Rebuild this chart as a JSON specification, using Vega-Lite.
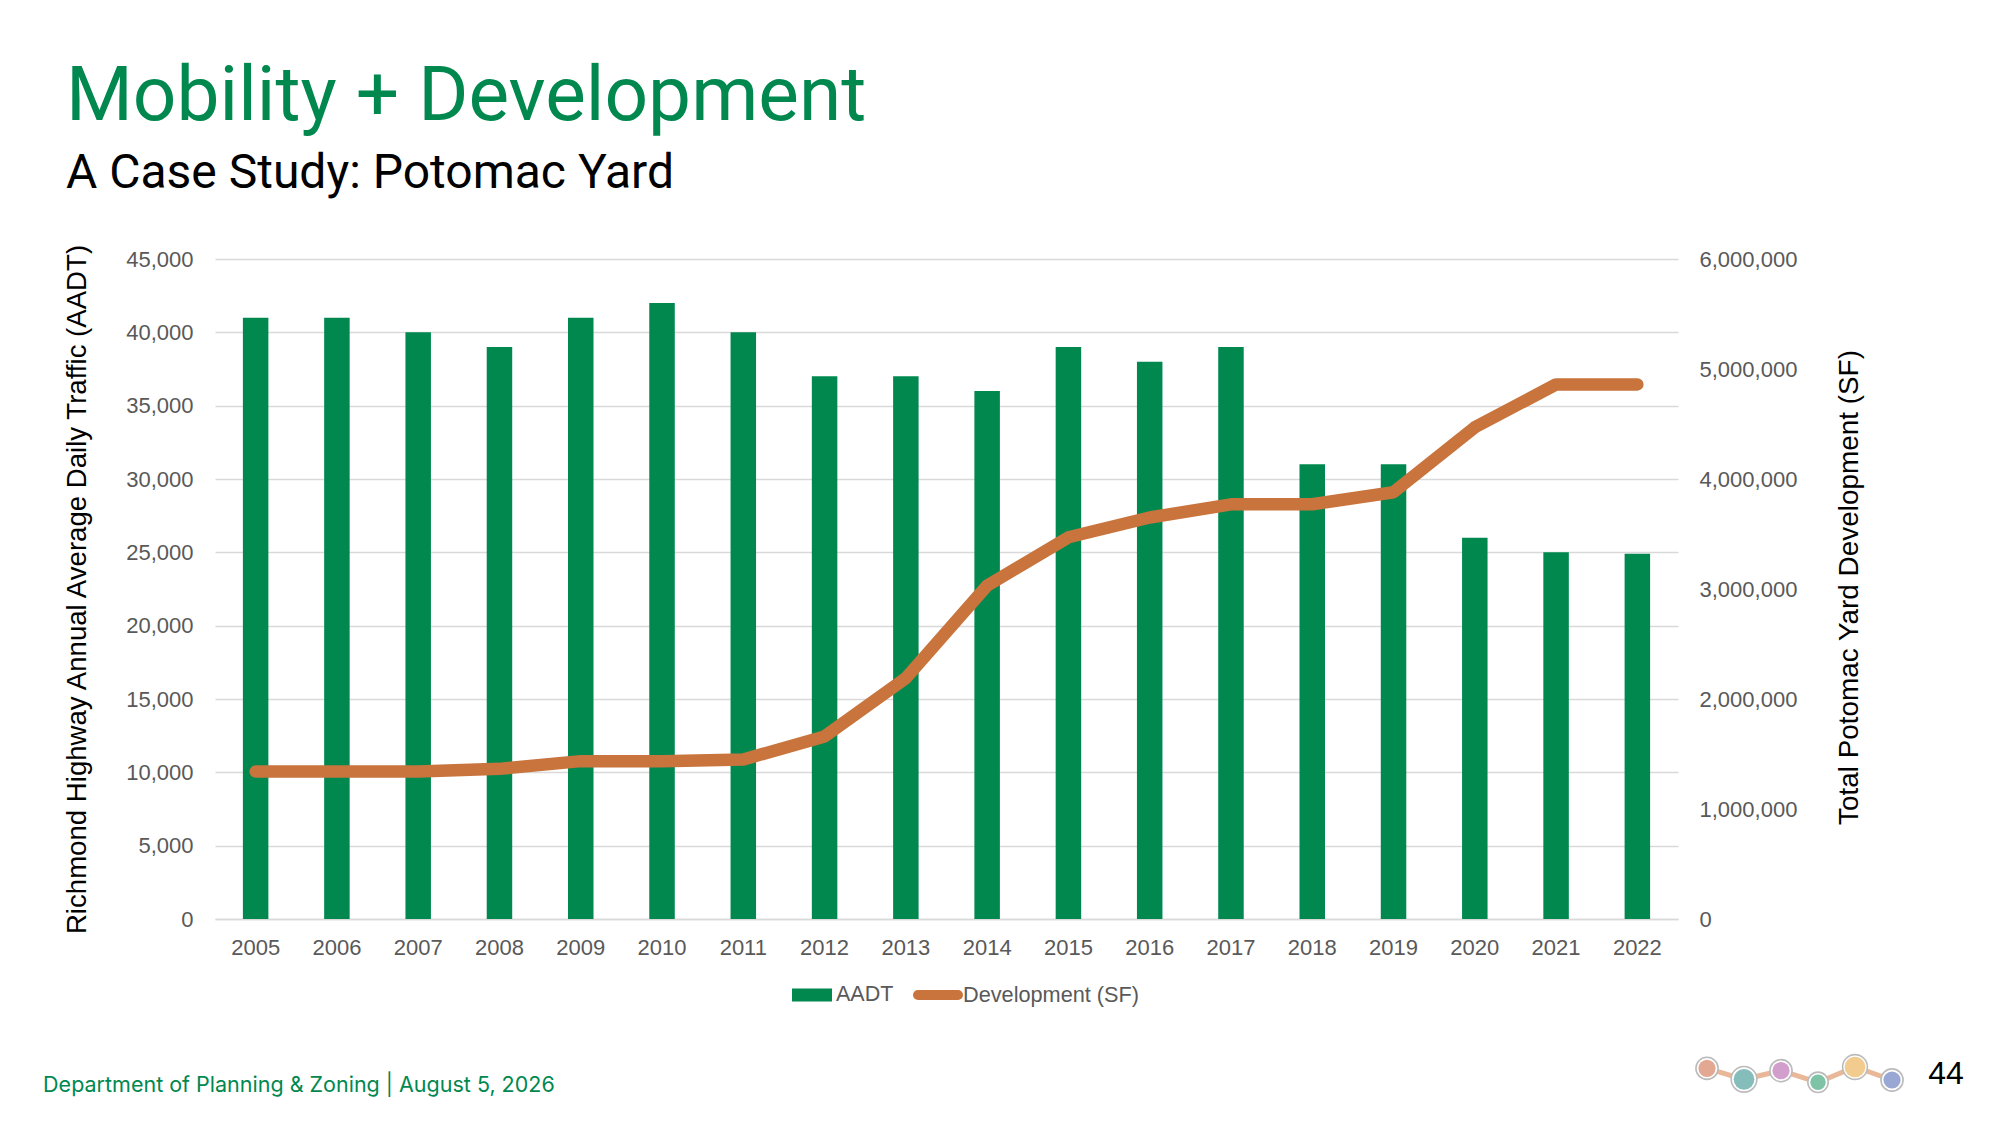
{
"$schema":"https://vega.github.io/schema/vega-lite/v6.json",
"width":1463,"height":660,
"autosize":{"type":"none"},
"padding":{"left":215,"top":259,"right":322,"bottom":207},
"background":"#ffffff",
"title":{"text":"Mobility + Development","subtitle":"A Case Study: Potomac Yard","anchor":"start","frame":"group","dx":-149,"offset":45,"font":"Roboto","fontSize":76.6,"fontWeight":"normal","color":"#00884F","subtitleFont":"Roboto","subtitleFontSize":48,"subtitleFontWeight":"normal","subtitleColor":"#000000","subtitlePadding":14},
"datasets":{
"traffic":[
{"year":"2005","aadt":41000,"dev":1340000},{"year":"2006","aadt":41000,"dev":1340000},{"year":"2007","aadt":40000,"dev":1340000},{"year":"2008","aadt":39000,"dev":1365000},{"year":"2009","aadt":41000,"dev":1435000},{"year":"2010","aadt":42000,"dev":1435000},{"year":"2011","aadt":40000,"dev":1450000},{"year":"2012","aadt":37000,"dev":1660000},{"year":"2013","aadt":37000,"dev":2190000},{"year":"2014","aadt":36000,"dev":3030000},{"year":"2015","aadt":39000,"dev":3470000},{"year":"2016","aadt":38000,"dev":3650000},{"year":"2017","aadt":39000,"dev":3770000},{"year":"2018","aadt":31000,"dev":3770000},{"year":"2019","aadt":31000,"dev":3880000},{"year":"2020","aadt":26000,"dev":4470000},{"year":"2021","aadt":25000,"dev":4860000},{"year":"2022","aadt":24900,"dev":4860000}],
"logo":[{"node":"a","step":0,"level":16.7},{"node":"b","step":1,"level":5.7},{"node":"c","step":2,"level":14.3},{"node":"d","step":3,"level":2.7},{"node":"e","step":4,"level":18},{"node":"f","step":5,"level":5}],
"notes":[{"label":"Department of Planning & Zoning  |  August 5, 2026","step":-44.97,"level":-7}],
"page":[{"label":"44","step":5.98,"level":1}]
},
"layer":[
{"data":{"name":"traffic"},
"mark":{"type":"bar","width":25.5,"color":"#00884F"},
"encoding":{
"x":{"field":"year","type":"ordinal","scale":{"type":"band","paddingInner":0,"paddingOuter":0},"axis":{"title":null,"labelAngle":0,"labelFontSize":22,"labelFont":"Liberation Sans","labelColor":"#595959","labelPadding":18,"ticks":false,"domainColor":"#d9d9d9","domainWidth":1.5,"grid":false}},
"y":{"field":"aadt","type":"quantitative","scale":{"domain":[0,45000],"nice":false},"axis":{"orient":"left","values":[0,5000,10000,15000,20000,25000,30000,35000,40000,45000],"format":",.0f","title":"Richmond Highway Annual Average Daily Traffic (AADT)","titleFont":"Liberation Sans","titleFontSize":27.6,"titleFontWeight":"normal","titleColor":"#000000","titlePadding":34,"labelFontSize":22,"labelFont":"Liberation Sans","labelColor":"#595959","labelPadding":22,"ticks":false,"domain":false,"grid":true,"gridColor":"#d9d9d9","gridWidth":1.5}},
"color":{"datum":"AADT","scale":{"domain":["AADT"],"range":["#00884F"]},"legend":{"title":null,"orient":"none","legendX":577,"legendY":716,"symbolType":"M-1,-0.33H1V0.33H-1Z","symbolSize":1600,"symbolStrokeWidth":0,"labelFont":"Liberation Sans","labelFontSize":21.5,"labelColor":"#595959","labelOffset":4,"padding":0}}
}},
{"data":{"name":"traffic"},
"mark":{"type":"line","strokeWidth":12.5,"strokeCap":"round","strokeJoin":"round"},
"encoding":{
"x":{"field":"year","type":"ordinal","scale":{"type":"point","padding":0.5},"axis":null},
"y":{"field":"dev","type":"quantitative","scale":{"domain":[0,6000000],"nice":false},"axis":{"orient":"right","values":[0,1000000,2000000,3000000,4000000,5000000,6000000],"format":",.0f","title":"Total Potomac Yard Development (SF)","titleFont":"Liberation Sans","titleFontSize":27.9,"titleFontWeight":"normal","titleColor":"#000000","titleAngle":270,"titlePadding":67,"titleY":328,"labelFontSize":22,"labelFont":"Liberation Sans","labelColor":"#595959","labelPadding":21,"ticks":false,"domain":false,"grid":false}},
"stroke":{"datum":"Development (SF)","scale":{"domain":["Development (SF)"],"range":["#C8743C"]},"legend":{"title":null,"orient":"none","legendX":698,"legendY":711,"symbolType":"M-1,0H1","symbolSize":1600,"symbolStrokeWidth":10,"labelFont":"Liberation Sans","labelFontSize":21.7,"labelColor":"#595959","labelOffset":0,"labelLimit":400,"padding":0,"encode":{"symbols":{"update":{"strokeCap":{"value":"round"}}}}}}
}},
{"data":{"name":"logo"},
"mark":{"type":"line","color":"#E8B898","strokeWidth":5},
"encoding":{
"x":{"field":"step","type":"quantitative","scale":{"domain":[-40.324,-0.784],"nice":false,"zero":false},"axis":null},
"y":{"field":"level","type":"quantitative","scale":{"domain":[166,826],"nice":false,"zero":false},"axis":null}
}},
{"data":{"name":"logo"},
"mark":{"type":"point","filled":false,"fill":"#ffffff","fillOpacity":1,"stroke":"#bbbbbb","strokeWidth":1.6,"opacity":1},
"encoding":{
"x":{"field":"step","type":"quantitative","scale":{"domain":[-40.324,-0.784],"nice":false,"zero":false},"axis":null},
"y":{"field":"level","type":"quantitative","scale":{"domain":[166,826],"nice":false,"zero":false},"axis":null},
"size":{"field":"node","type":"ordinal","scale":{"type":"ordinal","domain":["a","b","c","d","e","f"],"range":[491,660,491,415,616,491]},"legend":null}
}},
{"data":{"name":"logo"},
"mark":{"type":"circle","opacity":1},
"encoding":{
"x":{"field":"step","type":"quantitative","scale":{"domain":[-40.324,-0.784],"nice":false,"zero":false},"axis":null},
"y":{"field":"level","type":"quantitative","scale":{"domain":[166,826],"nice":false,"zero":false},"axis":null},
"size":{"field":"node","type":"ordinal","scale":{"type":"ordinal","domain":["a","b","c","d","e","f"],"range":[296,430,296,238,430,296]},"legend":null},
"color":{"field":"node","type":"nominal","scale":{"domain":["a","b","c","d","e","f"],"range":["#E3A891","#85BDBB","#D29ECB","#7EC3A6","#F2CB8F","#98A7D4"]},"legend":null}
}},
{"data":{"name":"notes"},
"mark":{"type":"text","align":"left","baseline":"alphabetic","font":"Inter","fontSize":21.5,"color":"#00884F"},
"encoding":{
"x":{"field":"step","type":"quantitative","scale":{"domain":[-40.324,-0.784],"nice":false,"zero":false},"axis":null},
"y":{"field":"level","type":"quantitative","scale":{"domain":[166,826],"nice":false,"zero":false},"axis":null},
"text":{"field":"label","type":"nominal"}
}},
{"data":{"name":"page"},
"mark":{"type":"text","align":"left","baseline":"alphabetic","font":"Liberation Sans","fontSize":32,"color":"#000000"},
"encoding":{
"x":{"field":"step","type":"quantitative","scale":{"domain":[-40.324,-0.784],"nice":false,"zero":false},"axis":null},
"y":{"field":"level","type":"quantitative","scale":{"domain":[166,826],"nice":false,"zero":false},"axis":null},
"text":{"field":"label","type":"nominal"}
}}
],
"resolve":{"scale":{"x":"independent","y":"independent","color":"independent","size":"independent","stroke":"independent"},"axis":{"x":"independent","y":"independent"},"legend":{"color":"independent","stroke":"independent"}},
"config":{"view":{"stroke":null}}
}
